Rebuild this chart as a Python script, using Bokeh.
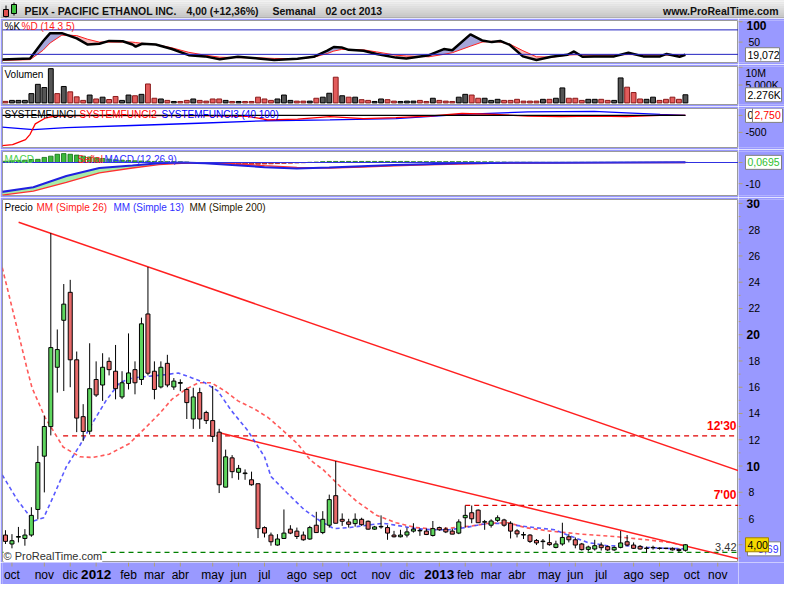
import datetime as dt
from bokeh.plotting import figure
from bokeh.layouts import column, row
from bokeh.models import Range1d, Label, Span
from bokeh.core.properties import value
from bokeh.embed import file_html
from bokeh.resources import INLINE

# ------------------------------------------------------------------ data
FIRST_WEEK = dt.date(2011, 9, 26)          # Monday of first weekly candle
MESES = ["ene", "feb", "mar", "abr", "may", "jun", "jul", "ago", "sep", "oct", "nov", "dic"]

OPEN = [4.74, 4.06, 4.58, 4.48, 4.74, 6.69, 10.75, 13.00, 17.52, 21.10,
        23.23, 18.09, 13.76, 12.65, 16.59, 16.17, 17.97, 17.22, 15.26, 16.29,
        17.34, 16.59, 21.58, 17.22, 16.02, 17.82, 16.02, 16.30, 15.83, 13.58,
        15.59, 14.08, 13.46, 12.58, 8.39, 10.62, 9.52, 9.42, 8.95, 8.65,
        5.31, 4.74, 3.98, 4.48, 5.19, 5.04, 4.74, 4.44, 5.49, 4.93,
        5.49, 7.74, 5.94, 5.74, 5.61, 5.94, 5.79, 5.19, 5.36, 5.31,
        4.74, 4.61, 4.74, 5.04, 5.06, 5.04, 4.71, 5.31, 5.19, 5.04,
        4.89, 6.06, 6.44, 6.64, 5.72, 5.49, 5.86, 5.89, 5.64, 5.06,
        4.74, 4.74, 4.33, 4.24, 4.16, 3.80, 4.06, 4.61, 4.38, 4.06,
        3.65, 3.68, 3.98, 3.86, 3.61, 3.80, 4.23, 3.98, 3.88, 3.72,
        3.77, 3.72, 3.74, 3.73, 3.65, 3.58]
HIGH = [5.11, 4.81, 5.36, 5.19, 6.86, 11.53, 13.83, 27.74, 20.40, 23.86,
        24.18, 18.72, 14.71, 19.35, 17.97, 18.59, 18.27, 19.22, 17.22, 20.10,
        17.97, 21.30, 25.16, 17.97, 17.97, 18.47, 16.70, 16.60, 15.96, 15.96,
        15.96, 14.21, 16.09, 12.83, 11.25, 10.83, 10.08, 9.74, 9.57, 8.65,
        5.40, 4.93, 4.81, 6.69, 5.49, 5.31, 5.01, 5.44, 6.51, 6.56,
        7.82, 10.38, 6.39, 5.98, 6.39, 6.06, 5.85, 5.44, 6.24, 5.49,
        5.06, 5.14, 5.31, 5.64, 5.23, 5.23, 5.81, 5.38, 5.34, 5.23,
        5.94, 6.99, 6.99, 6.69, 5.89, 5.94, 6.24, 5.98, 5.79, 5.19,
        4.98, 4.81, 4.44, 4.44, 4.81, 4.31, 5.68, 4.81, 4.56, 4.14,
        3.93, 4.38, 4.18, 3.93, 3.88, 5.06, 4.74, 4.18, 3.98, 3.86,
        3.93, 3.80, 3.78, 3.80, 3.73, 4.05]
LOW = [4.06, 3.73, 4.18, 3.93, 4.61, 5.94, 7.99, 12.33, 15.59, 15.71,
       16.00, 12.58, 11.90, 12.40, 15.26, 14.96, 16.90, 15.08, 15.10, 15.83,
       15.46, 16.17, 16.90, 15.08, 15.91, 16.00, 15.80, 15.70, 13.58, 12.83,
       12.83, 13.20, 11.83, 7.94, 8.39, 9.07, 8.95, 8.95, 8.50, 4.51,
       4.56, 3.93, 3.93, 4.44, 4.81, 4.44, 4.31, 4.38, 4.93, 4.81,
       5.31, 5.64, 5.44, 5.31, 5.38, 5.44, 5.15, 5.14, 5.23, 4.38,
       4.56, 4.56, 4.56, 4.93, 4.68, 4.74, 4.63, 5.06, 4.89, 4.81,
       4.81, 5.31, 5.64, 5.68, 5.14, 5.31, 5.74, 5.38, 4.48, 4.56,
       4.44, 4.14, 3.98, 3.68, 3.93, 3.73, 3.93, 4.18, 3.73, 3.56,
       3.48, 3.56, 3.56, 3.53, 3.53, 3.73, 3.88, 3.68, 3.63, 3.38,
       3.63, 3.63, 3.66, 3.56, 3.43, 3.48]
CLOSE = [4.26, 4.31, 4.63, 4.74, 6.24, 10.27, 13.01, 19.02, 18.87, 22.33,
         18.09, 13.65, 12.63, 15.89, 15.41, 17.52, 17.34, 15.89, 16.34, 17.09,
         16.34, 20.83, 17.07, 15.83, 17.52, 16.17, 16.47, 16.36, 14.83, 15.26,
         13.58, 13.46, 12.26, 8.57, 10.70, 9.57, 9.82, 9.47, 8.57, 5.23,
         4.89, 4.23, 4.44, 4.89, 4.89, 4.63, 4.38, 5.31, 4.93, 5.94,
         7.44, 5.64, 5.79, 5.56, 5.94, 5.53, 5.19, 5.36, 5.40, 4.89,
         4.61, 4.74, 4.98, 5.19, 5.10, 4.78, 5.23, 5.14, 4.98, 4.81,
         5.74, 6.24, 5.98, 5.68, 5.76, 5.81, 6.06, 5.49, 5.04, 4.83,
         4.78, 4.26, 4.14, 4.28, 4.01, 4.06, 4.56, 4.38, 3.98, 3.63,
         3.83, 3.93, 3.78, 3.61, 3.80, 4.14, 3.98, 3.73, 3.68, 3.75,
         3.80, 3.75, 3.72, 3.61, 3.56, 4.00]
VOLUME_M = [0.43, 0.7, 0.7, 0.7, 2.6, 5.2, 4.3, 9.6, 2.6, 4.6,
            3.1, 1.7, 0.7, 2.2, 1.1, 1.6, 0.95, 1.8, 0.7, 2.2,
            2.0, 2.4, 5.3, 1.3, 1.1, 0.7, 0.4, 0.4, 0.7, 1.1,
            0.7, 0.5, 1.1, 1.1, 0.7, 0.4, 0.4, 0.4, 0.4, 1.6,
            1.1, 0.7, 1.1, 2.2, 0.7, 0.5, 0.5, 0.5, 1.3, 1.6,
            2.7, 7.2, 2.0, 1.6, 1.6, 0.9, 0.7, 0.4, 1.1, 0.9,
            0.5, 0.4, 0.5, 0.5, 0.7, 0.4, 1.3, 0.7, 0.5, 0.4,
            1.6, 2.4, 2.2, 1.3, 1.3, 0.7, 1.0, 0.7, 0.7, 1.0,
            0.5, 0.5, 0.5, 1.0, 1.0, 1.3, 4.2, 1.3, 1.3, 0.7,
            1.0, 1.0, 1.0, 0.7, 0.7, 7.0, 4.4, 2.9, 1.1, 1.0,
            1.6, 0.7, 1.0, 1.6, 1.0, 2.276]

MM26_X = [-0.5, 3.3, 4.1, 6.1, 8.9, 11.5, 13.5, 16.0, 19.1, 21.7, 23.7, 25.7, 27.8, 29.8,
          31.8, 33.9, 35.9, 38.5, 40.5, 42.0, 45.1, 47.1, 49.1, 51.7, 54.2, 57.3, 60.3,
          63.4, 66.5, 69.5, 72.1, 74.6, 77.7, 80.2, 83.8, 88.9, 94.0, 99.0, 102.6, 104.9]
MM26_Y = [25.11, 17.47, 15.96, 13.71, 11.45, 10.70, 10.65, 10.90, 11.70, 12.95, 13.95, 15.08,
          15.83, 16.34, 16.34, 15.71, 14.96, 14.33, 13.71, 13.08, 11.70, 10.45, 9.70, 8.44,
          7.32, 6.24, 5.68, 5.31, 5.19, 5.31, 5.44, 5.64, 5.68, 5.31, 5.06, 4.81, 4.63, 4.38,
          4.18, 3.93]
MM13_X = [-0.5, 1.8, 4.3, 5.9, 7.4, 9.4, 11.5, 13.5, 15.5, 17.6, 19.6, 22.2, 24.7, 26.7,
          28.8, 30.8, 32.8, 34.9, 37.4, 40.0, 41.0, 43.5, 46.1, 48.6, 50.7, 53.2, 55.8, 58.3,
          60.9, 63.4, 66.0, 68.5, 71.0, 73.6, 76.1, 78.7, 81.7, 84.8, 86.8, 89.9, 92.9, 96.0,
          99.0, 102.1, 104.9]
MM13_Y = [9.32, 7.44, 5.81, 6.06, 7.69, 9.95, 11.58, 13.33, 14.96, 16.34, 16.71, 16.84, 16.96,
          17.09, 16.71, 16.34, 15.71, 14.21, 12.71, 10.70, 9.20, 7.94, 6.69, 5.81, 5.23, 5.31,
          5.49, 5.64, 5.44, 5.23, 5.14, 5.14, 5.31, 5.56, 5.64, 5.49, 5.31, 5.14, 4.74, 4.18,
          3.93, 3.93, 3.80, 3.73, 3.69]
MM13_LAST = 3.69

TREND_1_X = [2.03, 113.2]
TREND_1_Y = [28.57, 9.65]
TREND_2_X = [33.04, 113.2]
TREND_2_Y = [12.53, 2.93]
RES_1, RES_1_FROM = 12.30, 8.9
RES_2, RES_2_FROM = 7.00, 71.0
SUPPORT = 3.42

STOCH_X = [-0.8, 3.8, 5.8, 6.9, 8.7, 11.0, 12.7, 14.5, 16.0, 18.1, 19.6, 20.1, 21.1, 23.2,
           25.7, 28.3, 30.8, 33.1, 35.9, 39.0, 41.5, 45.1, 47.6, 49.7, 50.7, 51.9, 53.0,
           55.3, 57.3, 60.3, 61.9, 65.4, 67.7, 69.0, 71.8, 73.6, 75.1, 76.4, 77.9, 79.9,
           82.0, 84.3, 86.8, 87.8, 89.1, 90.9, 94.0, 96.2, 98.5, 101.1, 102.1, 104.1, 105.0]
STOCH_K = [7, 10, 52, 72, 72, 59, 44, 46, 53, 52, 44, 39, 46, 44,
           33, 18, 15, 8, 14, 10, 6, 9, 14, 29, 38, 37, 31,
           29, 21, 12, 10, 18, 33, 30, 69, 54, 50, 53, 43, 15,
           6, 14, 19, 27, 14, 15, 15, 24, 15, 15, 21, 14, 19.072]
STOCH_D = [5, 7, 30, 48, 67, 66, 57, 50, 50, 50, 50, 49, 47, 44,
           36, 25, 18, 13, 12, 11.5, 10, 9.3, 13, 22, 28, 32, 32,
           31, 26, 18, 16, 14, 20, 24, 40, 50, 52, 50, 45, 29,
           14, 13, 18, 19, 19, 18, 18.5, 19.5, 19, 18.5, 18.5, 18.5, 18.4]

SYS1_X = [-0.8, 105.0]
SYS1_Y = [0, 0]
SYS2_X = [-0.8, 1.1, 3.1, 3.8, 4.6, 6.1, 7.6, 14.5, 29.8, 37.4, 40.5, 45.1, 50.1, 52.7, 55.3,
          60.3, 65.4, 70.5, 75.6, 80.7, 85.8, 90.9, 95.9, 101.1, 105.0]
SYS2_Y = [-890, -862, -714, -556, -250, -83, -19, 0, -6, -28, -131, -111, -36, -64, -92,
          -64, -19, 56, 28, -19, -36, -19, -36, 0, 2.75]
SYS3_X = [-0.8, 4.3, 9.4, 19.6, 29.8, 40.0, 50.1, 60.3, 70.5, 80.7, 90.9, 95.9, 101.1, 105.0]
SYS3_Y = [-342, -417, -361, -297, -231, -158, -131, -92, 28, 103, 120, 75, 28, 0]

MACD_X = [-0.8, 4.3, 9.4, 14.5, 19.6, 23.7, 27.2, 30.8, 35, 40, 45, 50, 55, 60, 65, 70, 75, 85, 95, 105]
MACD_LINE = [-14.0, -11.7, -6.4, -2.6, -1.4, -0.3, 0.0, -0.3, -1.2, -2.2, -2.8, -2.4, -1.8, -1.2,
             -0.8, -0.4, -0.2, -0.1, 0.0, 0.07]
MACD_SIGNAL = [-15.5, -13.5, -9.4, -4.9, -2.6, -1.0, -0.4, -0.2, -0.6, -1.5, -2.3, -2.7, -2.2,
               -1.6, -1.1, -0.7, -0.4, -0.15, -0.05, 0.0]
MACD_HIST = [0.6, 0.8, 1.0, 1.1, 1.4, 1.5, 2.4, 3.0, 3.9, 4.2,
             3.9, 3.5, 3.0, 2.6, 2.2, 1.9, 1.6, 1.3, 1.1, 0.9,
             0.8, 0.7, 0.6, 0.5, 0.5, 0.4, 0.4, 0.3, 0.2, 0.0,
             -0.2, -0.3, -0.5, -0.7, -0.8, -0.9, -0.9, -0.9, -0.8, -0.8,
             -0.7, -0.6, -0.5, -0.4, -0.3, -0.2, -0.1, 0.1, 0.2, 0.4,
             0.5, 0.5, 0.5, 0.5, 0.5, 0.5, 0.5, 0.5, 0.5, 0.5,
             0.5, 0.5, 0.5, 0.4, 0.4, 0.4, 0.4, 0.4, 0.4, 0.4,
             0.4, 0.4, 0.4, 0.3, 0.3, 0.3, 0.2, 0.2, 0.1, 0.1,
             0.1, 0.1, 0.05, 0.05, 0.05, 0.05, 0.05, 0.05, 0.05, 0.05,
             0.05, 0.05, 0.05, 0.05, 0.05, 0.05, 0.05, 0.05, 0.05, 0.05,
             0.05, 0.05, 0.05, 0.05, 0.05, 0.0695]

PRICE_TICKS = list(range(4, 31, 2))
PRICE_MINOR = list(range(3, 31, 2))

# ------------------------------------------------------------------ style
FONT = "Liberation Sans"
LAV = "#9999ff"
TICKC = "#b0a070"
OUTL = "#9a9a9a"
FW = 736
SW = 46
X0, X1 = -0.46, 113.2
XR = Range1d(X0, X1)
N = len(CLOSE)
IDX = list(range(N))


def panel(fh, yr, bottom=2):
    p = figure(frame_width=FW, frame_height=fh, x_range=XR, y_range=yr,
               output_backend="svg", toolbar_location=None,
               x_axis_location=None, y_axis_location=None,
               min_border_left=2, min_border_right=0, min_border_top=2,
               min_border_bottom=bottom, background_fill_color="white",
               border_fill_color=LAV, outline_line_color=OUTL)
    p.grid.visible = False
    return p


def side(fh, yr, bottom=2):
    s = figure(frame_width=SW, frame_height=fh, x_range=Range1d(0, SW), y_range=yr,
               output_backend="svg", toolbar_location=None,
               x_axis_location=None, y_axis_location=None,
               min_border_left=0, min_border_right=0, min_border_top=2,
               min_border_bottom=bottom, background_fill_color=LAV,
               border_fill_color=LAV, outline_line_color=None)
    s.grid.visible = False
    return s


def ticks(s, vals, length=4):
    s.segment(x0=[0] * len(vals), y0=vals, x1=[length] * len(vals), y1=vals,
              line_color=TICKC, line_width=1)


def stext(s, x, y, txt, color="#000000", size="10.5px", bold=False, align="left",
          base="middle"):
    s.text(x=[x], y=[y], text=[txt], text_font=value(FONT), text_font_size=value(size),
           text_font_style="bold" if bold else "normal", text_color=color,
           text_align=align, text_baseline=base)


def box(s, xa, xb, y, txt, color="#000000", fill="white", border="#808080", h=14,
        right=False):
    s.rect(x=[(xa + xb) / 2], y=[y], width=[xb - xa], height=[h], height_units="screen",
           fill_color=fill, line_color=border)
    if right:
        stext(s, xb - 2, y, txt, color=color, align="right")
    else:
        stext(s, xa + 2, y, txt, color=color)


def lab(p, x, y, text, color="#000000", size="10px", xo=0, base="middle", bg=None):
    kw = {}
    if bg is not None:
        kw["background_fill_color"] = bg
    p.add_layout(Label(x=x, y=y, x_offset=xo, text=text, text_color=color,
                       text_font=FONT, text_font_size=size,
                       text_align="left", text_baseline=base, **kw))


# ------------------------------------------------------------------ header
TW = FW + 2 + SW
hdr = figure(frame_width=TW, frame_height=18, x_range=Range1d(0, TW),
             y_range=Range1d(18, 0), output_backend="svg", toolbar_location=None,
             x_axis_location=None, y_axis_location=None, min_border=0,
             outline_line_color=None, background_fill_color="#d8d8d8")
hdr.grid.visible = False
shades = ["#f2f2f2", "#ececec", "#e6e6e6", "#e0e0e0", "#dadada", "#d4d4d4", "#cecece",
          "#c8c8c8", "#c2c2c2"]
hdr.quad(left=[0] * 9, right=[TW] * 9, top=[2 * i for i in range(9)],
         bottom=[2 * i + 2 for i in range(9)], fill_color=shades, line_color=None)
hdr.segment(x0=[0], y0=[17.5], x1=[TW], y1=[17.5], line_color="#9a9a9a", line_width=1)
hdr.segment(x0=[5.5, 13.5], y0=[5, 2], x1=[5.5, 13.5], y1=[17, 15], line_color="black")
hdr.quad(left=[3, 11], right=[8, 16], top=[9, 4], bottom=[16, 13],
         fill_color=["#e05050", "#40c040"], line_color="black")
hdr.text(x=[24, 186, 272, 325], y=[10, 10, 10, 10],
         text=["PEIX - PACIFIC ETHANOL INC.", "4,00 (+12,36%)", "Semanal", "02 oct 2013"],
         text_font=value(FONT), text_font_size=value("10.5px"), text_font_style="bold",
         text_color="#101010", text_baseline="middle", text_align="left")
hdr.text(x=[TW - 6], y=[10], text=["www.ProRealTime.com"], text_font=value(FONT),
         text_font_size=value("10.5px"), text_font_style="bold", text_color="#101010",
         text_baseline="middle", text_align="right")

# ------------------------------------------------------------------ stochastic
ST_FH = 42
ST_R = Range1d(0, 103)
st = panel(ST_FH, ST_R)
kd_max = [max(k, d) for k, d in zip(STOCH_K, STOCH_D)]
st.varea(x=STOCH_X, y1=STOCH_D, y2=kd_max, fill_color="#9c9cd6", fill_alpha=0.9)
st.varea(x=STOCH_X, y1=STOCH_K, y2=kd_max, fill_color="#f2b4b4", fill_alpha=0.9)
st.add_layout(Span(location=80, dimension="width", line_color="#2020c0", line_width=1))
st.add_layout(Span(location=20, dimension="width", line_color="#2020c0", line_width=1))
st.line(STOCH_X, STOCH_D, line_color="#ff2020", line_width=1)
st.line(STOCH_X, STOCH_K, line_color="black", line_width=2.5)
pxs = (ST_R.end - ST_R.start) / ST_FH
lab(st, X0, ST_R.end - 6 * pxs, "%K", xo=2)
lab(st, X0, ST_R.end - 6 * pxs, "%D (14 3 5)", color="#ff2020", xo=19)
st_s = side(ST_FH, ST_R)
ticks(st_s, [50, 100])
stext(st_s, 8, ST_R.end, "100", size="12px", bold=True, base="top")
stext(st_s, 10, 50, "50")
box(st_s, 7, 41, STOCH_K[-1], "19,072")

# ------------------------------------------------------------------ volume
VO_FH = 38
VO_R = Range1d(-0.45, 10.2)
vo = panel(VO_FH, VO_R)
up = [i > 0 and CLOSE[i] >= CLOSE[i - 1] for i in IDX]
vo.vbar(x=IDX, top=VOLUME_M, bottom=0, width=0.75,
        fill_color=["#555555" if u else "#e25c5c" for u in up],
        line_color=["#000000" if u else "#8b1a1a" for u in up], line_width=1)
pxv = (VO_R.end - VO_R.start) / VO_FH
lab(vo, X0, VO_R.end - 8 * pxv, "Volumen", xo=2)
vo_s = side(VO_FH, VO_R)
ticks(vo_s, [5, 10])
stext(vo_s, 7, VO_R.end, "10M", base="top")
stext(vo_s, 7, 5, "5.000K")
box(vo_s, 7, 43, VOLUME_M[-1], "2.276K")

# ------------------------------------------------------------------ system functions
SY_FH = 39
SY_R = Range1d(-944, 203)
sy = panel(SY_FH, SY_R)
pxy = (SY_R.end - SY_R.start) / SY_FH
lab(sy, X0, SY_R.end - 5.5 * pxy, "SYSTEMFUNCI", xo=2)
lab(sy, X0, SY_R.end - 5.5 * pxy, "SYSTEMFUNCI2", color="#ff0000", xo=77)
lab(sy, X0, SY_R.end - 5.5 * pxy, "SYSTEMFUNCI3 (40 100)", color="#0000ff", xo=159)
sy.line(SYS3_X, SYS3_Y, line_color="#0000ff", line_width=1.3)
sy.line(SYS2_X, SYS2_Y, line_color="#ff0000", line_width=1.3)
sy.line(SYS1_X, SYS1_Y, line_color="black", line_width=1.3)
sy_s = side(SY_FH, SY_R)
ticks(sy_s, [0, -500])
stext(sy_s, 7, -500, "-500")
box(sy_s, 7, 14, SYS1_Y[-1], "0")
box(sy_s, 14, 44, SYS1_Y[-1], "2,750", color="#ff0000")

# ------------------------------------------------------------------ MACD
MA_FH = 44
MA_R = Range1d(-15.6, 5.2)
ma = panel(MA_FH, MA_R)
ms_max = [max(a, b) for a, b in zip(MACD_LINE, MACD_SIGNAL)]
ma.varea(x=MACD_X, y1=MACD_SIGNAL, y2=ms_max, fill_color="#a8eca8")
ma.varea(x=MACD_X, y1=MACD_LINE, y2=ms_max, fill_color="#f4b8b8")
ma.add_layout(Span(location=0, dimension="width", line_color="#3030e0", line_width=1))
ma.vbar(x=IDX, top=MACD_HIST, bottom=0, width=0.7,
        fill_color=["#3cb83c" if h >= 0 else "#e04040" for h in MACD_HIST],
        line_color=["#107010" if h >= 0 else "#a01010" for h in MACD_HIST], line_width=0.8)
ma.line(MACD_X, MACD_SIGNAL, line_color="#ff3030", line_width=1.3)
ma.line(MACD_X, MACD_LINE, line_color="#2020e0", line_width=2)
pxm = (MA_R.end - MA_R.start) / MA_FH
lab(ma, X0, MA_R.end - 8.4 * pxm, "MACD", color="#50d050", xo=2)
lab(ma, X0, MA_R.end - 8.4 * pxm, "Señal", color="#ff2020", xo=75)
lab(ma, X0, MA_R.end - 8.4 * pxm, "MACD (12 26 9)", color="#3030ff", xo=102)
ma_s = side(MA_FH, MA_R)
ticks(ma_s, [-10, 0])
stext(ma_s, 7, -10, "-10")
box(ma_s, 7, 43, MACD_HIST[-1], "0,0695", color="#30c030")

# ------------------------------------------------------------------ price
PR_FH = 363
PR_R = Range1d(2.65, 30.30)
pr = panel(PR_FH, PR_R, bottom=0)
pxp = (PR_R.end - PR_R.start) / PR_FH

pr.line([X0, X1], [SUPPORT, SUPPORT], line_color="#008000", line_dash="5 4", line_width=1.2)
pr.line([RES_1_FROM, X1], [RES_1, RES_1], line_color="#e00000", line_dash="5 4", line_width=1.2)
pr.line([RES_2_FROM, X1], [RES_2, RES_2], line_color="#e00000", line_dash="5 4", line_width=1.2)
pr.line(TREND_1_X, TREND_1_Y, line_color="#ff2020", line_width=1.5)
pr.line(TREND_2_X, TREND_2_Y, line_color="#ff2020", line_width=1.5)
pr.line(MM26_X, MM26_Y, line_color="#ff3030", line_dash="4 3", line_width=1.6, line_alpha=0.8)
pr.line(MM13_X, MM13_Y, line_color="#3030ff", line_dash="4 3", line_width=1.6, line_alpha=0.8)
pr.segment(x0=IDX, y0=LOW, x1=IDX, y1=HIGH, line_color="black", line_width=1)
pr.vbar(x=IDX, width=0.62, top=[max(o, c) for o, c in zip(OPEN, CLOSE)],
        bottom=[min(o, c) for o, c in zip(OPEN, CLOSE)],
        fill_color=["#5ed65e" if c >= o else "#e86a6a" for o, c in zip(OPEN, CLOSE)],
        line_color="black", line_width=1)

for level, txt in ((RES_1, "12'30"), (RES_2, "7'00")):
    pr.text(x=[X1], y=[level], text=[txt], x_offset=-2, y_offset=-3, text_align="right",
            text_baseline="bottom", text_font=value(FONT), text_font_size=value("12px"),
            text_font_style="bold", text_color="#ff0000")
pr.text(x=[X1], y=[SUPPORT], text=["3,42"], x_offset=-2, y_offset=-1, text_align="right",
        text_baseline="bottom", text_font=value(FONT), text_font_size=value("11px"),
        text_color="#333333")

PR_LEG_Y = PR_R.end - 7.5 * pxp
lab(pr, X0, PR_LEG_Y, "Precio", xo=2)
lab(pr, X0, PR_LEG_Y, "MM (Simple 26)", color="#ff2020", xo=34)
lab(pr, X0, PR_LEG_Y, "MM (Simple 13)", color="#3030ff", xo=111)
lab(pr, X0, PR_LEG_Y, "MM (Simple 200)", color="#2a2000", xo=187)
lab(pr, X0, PR_R.start + 6.5 * pxp, "© ProRealTime.com", color="#303030", xo=1, size="11px",
    bg="white")

pr_s = side(PR_FH, PR_R, bottom=0)
ticks(pr_s, PRICE_TICKS)
ticks(pr_s, PRICE_MINOR, length=2)
for v in PRICE_TICKS:
    if v in (10, 20, 30):
        stext(pr_s, 8, v, str(v), size="12px", bold=True)
    elif v != 4:
        stext(pr_s, 10, v, str(v))
box(pr_s, 9, 42, MM13_LAST, "3,69", color="#3030ff", right=True)
box(pr_s, 7, 30, CLOSE[-1], "4,00", fill="#f5d800", border="#a08000")

# ------------------------------------------------------------------ date axis strip
dates = [FIRST_WEEK + dt.timedelta(weeks=i) for i in range(int(X1) + 1)]
month_ticks = [i for i in range(1, len(dates)) if dates[i].month != dates[i - 1].month]
xs = figure(frame_width=FW, frame_height=22, x_range=XR, y_range=Range1d(22, 0),
            output_backend="svg", toolbar_location=None, x_axis_location=None,
            y_axis_location=None, min_border_left=2, min_border_right=0, min_border_top=0,
            min_border_bottom=0, background_fill_color=LAV, border_fill_color=LAV,
            outline_line_color=None)
xs.grid.visible = False
xs.segment(x0=month_ticks, y0=[0] * len(month_ticks), x1=month_ticks,
           y1=[4] * len(month_ticks), line_color=TICKC)
for i in month_ticks:
    if dates[i].month == 1:
        stext(xs, i, 12, str(dates[i].year), size="13.5px", bold=True, align="center")
    else:
        stext(xs, i, 12, MESES[dates[i].month - 1], size="12px", align="center")
corner = figure(frame_width=SW, frame_height=22, x_range=Range1d(0, 1), y_range=Range1d(0, 1),
                output_backend="svg", toolbar_location=None, x_axis_location=None,
                y_axis_location=None, min_border=0, background_fill_color=LAV,
                border_fill_color=LAV, outline_line_color=None)
corner.grid.visible = False

layout = column(hdr, row(st, st_s), row(vo, vo_s), row(sy, sy_s), row(ma, ma_s),
                row(pr, pr_s), row(xs, corner), spacing=0)
open("out.html", "w").write(file_html(layout, INLINE))
